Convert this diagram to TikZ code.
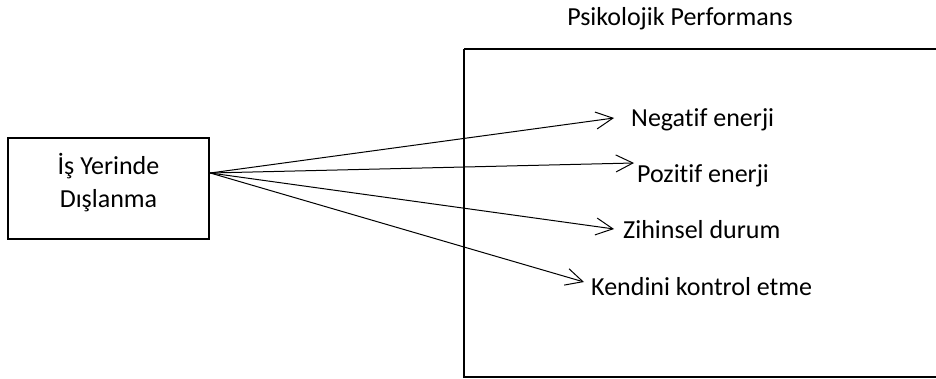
\documentclass[tikz,border=0pt]{standalone}
\usepackage{fontspec}
\setmainfont{Carlito}[Ligatures={NoCommon,NoRequired}]
\usetikzlibrary{arrows.meta}
\begin{document}
\begin{tikzpicture}[x=1pt,y=-1pt,
  lbl/.style={anchor=base west,inner sep=0pt,font=\fontsize{26}{34}\selectfont},
  conn/.style={line width=1pt,-{Straight Barb[length=17pt,width=17pt,line width=1pt]}}]
\useasboundingbox (0,0) rectangle (936,379);
\node (title) [lbl,anchor=base] at (680,26) {Psikolojik Performans};
\draw[line width=2.5pt] (464,49) -- (945,49) (464,49) -- (464,377) -- (945,377);
\node (src) [draw,line width=2.5pt,minimum width=201pt,minimum height=101pt] at (108.5,188.5) {};
\node (l1) [lbl,anchor=base] at (108.5,175) {İş Yerinde};
\node (l2) [lbl,anchor=base] at (108.5,208) {Dışlanma};
\coordinate (o) at (src.east |- 0,173);
\coordinate (t1) at (614,118);
\coordinate (t2) at (634,163);
\coordinate (t3) at (614,229);
\coordinate (t4) at (584,282);
\node (n1) [lbl] at (631,127) {Negatif enerji};
\node (n2) [lbl] at (637,183) {Pozitif enerji};
\node (n3) [lbl] at (623,239) {Zihinsel durum};
\node (n4) [lbl] at (591,295) {Kendini kontrol etme};
\draw[conn] (o) -- (t1);
\draw[conn] (o) -- (t2);
\draw[conn] (o) -- (t3);
\draw[conn] (o) -- (t4);
\end{tikzpicture}
\end{document}
